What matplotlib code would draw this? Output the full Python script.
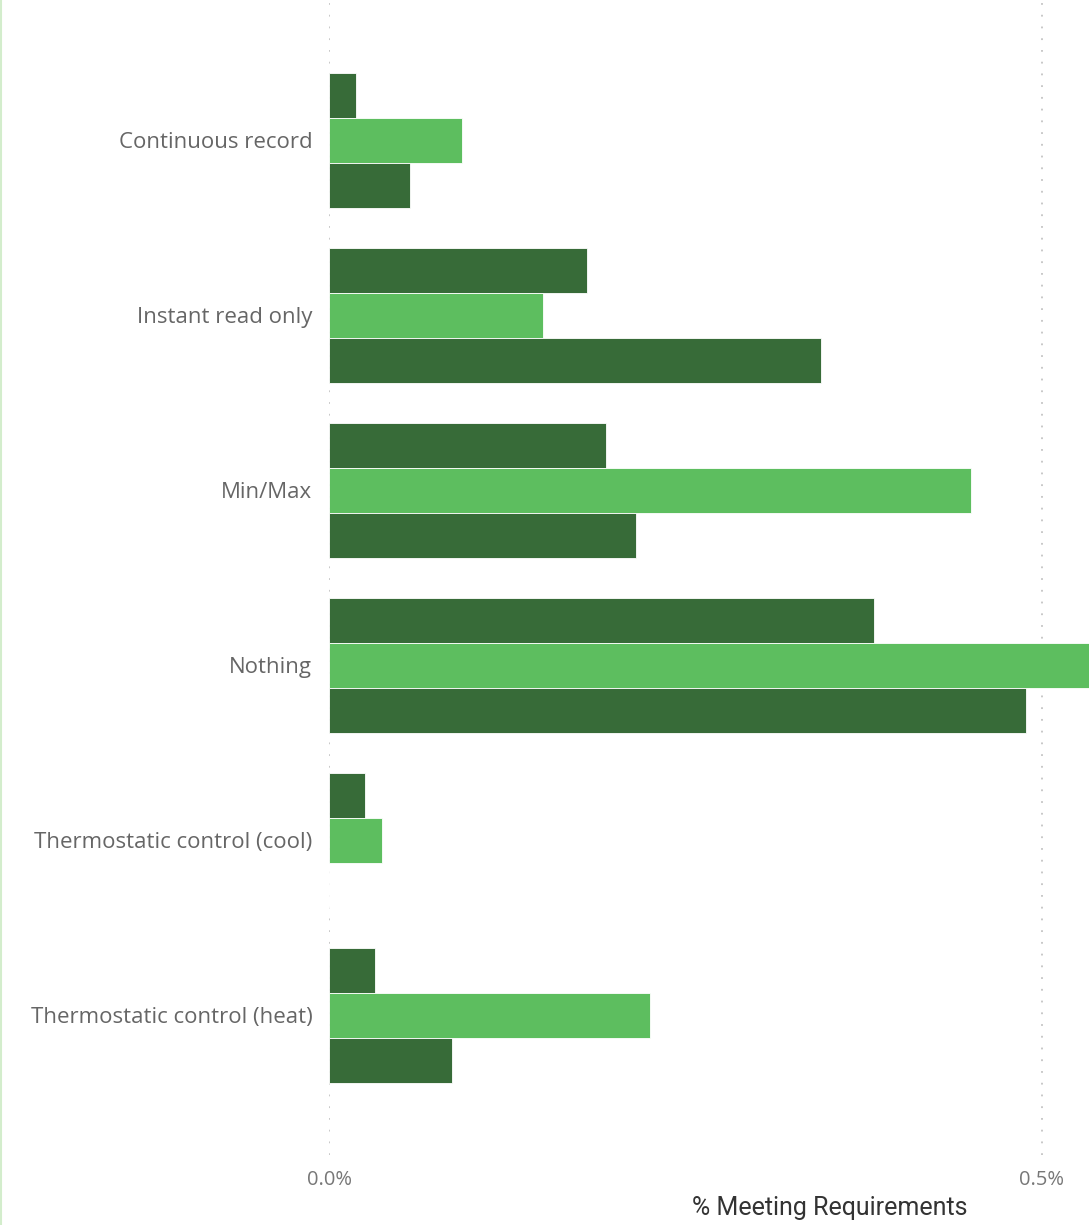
import matplotlib.pyplot as plt
import matplotlib.transforms as mtransforms
import numpy as np
from matplotlib.lines import Line2D
from matplotlib.ticker import FuncFormatter

categories = [
    "Continuous record",
    "Instant read only",
    "Min/Max",
    "Nothing",
    "Thermostatic control (cool)",
    "Thermostatic control (heat)",
]
# percent values, one list per series (top, middle, bottom bar in each group)
series_1 = [0.019, 0.181, 0.194, 0.382, 0.025, 0.032]
series_2 = [0.093, 0.150, 0.450, 0.560, 0.037, 0.225]
series_3 = [0.057, 0.345, 0.215, 0.489, 0.0, 0.086]
series_colors = ["#376b38", "#5dbe5f", "#376b38"]
x_ticks = [0.0, 0.5]

fig = plt.figure(figsize=(10.89, 12.25), dpi=100)
ax = fig.add_axes([329 / 1089, 1 - 1155 / 1225, 760 / 1089, 1155 / 1225])

y = np.arange(len(categories))
h = 45 / 175
for i, (vals, col) in enumerate(zip([series_1, series_2, series_3], series_colors)):
    ax.barh(y + (i - 1) * h, vals, height=h, color=col,
            edgecolor="white", linewidth=0.6, zorder=3)

ax.set_xlim(0, 0.533)
ax.set_ylim(5.797, -0.800)
ax.set_yticks(y)
ax.set_yticklabels(categories, fontsize=16, color="#666666", family="Open Sans")
# nudge category names a few pixels down
shift = mtransforms.ScaledTranslation(0, -3 / 100, fig.dpi_scale_trans)
for lbl in ax.get_yticklabels():
    lbl.set_va("center_baseline")
    lbl.set_transform(lbl.get_transform() + shift)
ax.set_xticks(x_ticks)
ax.xaxis.set_major_formatter(FuncFormatter(lambda v, _: f"{v:.1f}%"))
for lbl in ax.get_xticklabels():
    lbl.set_fontsize(14.5)
    lbl.set_color("#777777")
    lbl.set_family("Open Sans")
ax.tick_params(axis="both", length=0)
ax.tick_params(axis="y", pad=12)
ax.tick_params(axis="x", pad=11)
ax.grid(axis="x", color="#c4c4c4", linestyle=(0, (1, 5.5)), linewidth=1.3, zorder=0)
for s in ax.spines.values():
    s.set_visible(False)

ax.set_xlabel("% Meeting Requirements", fontsize=18, color="#333333",
              family="Roboto", labelpad=10)
ax.xaxis.set_label_coords((830 - 329) / 760, -(1196 - 1155) / 1155)

# thin border on the left edge
fig.add_artist(Line2D([0.001, 0.001], [0, 1], transform=fig.transFigure,
                      color="#d3edcc", linewidth=1.5))

fig.savefig("out.png", dpi=100)
